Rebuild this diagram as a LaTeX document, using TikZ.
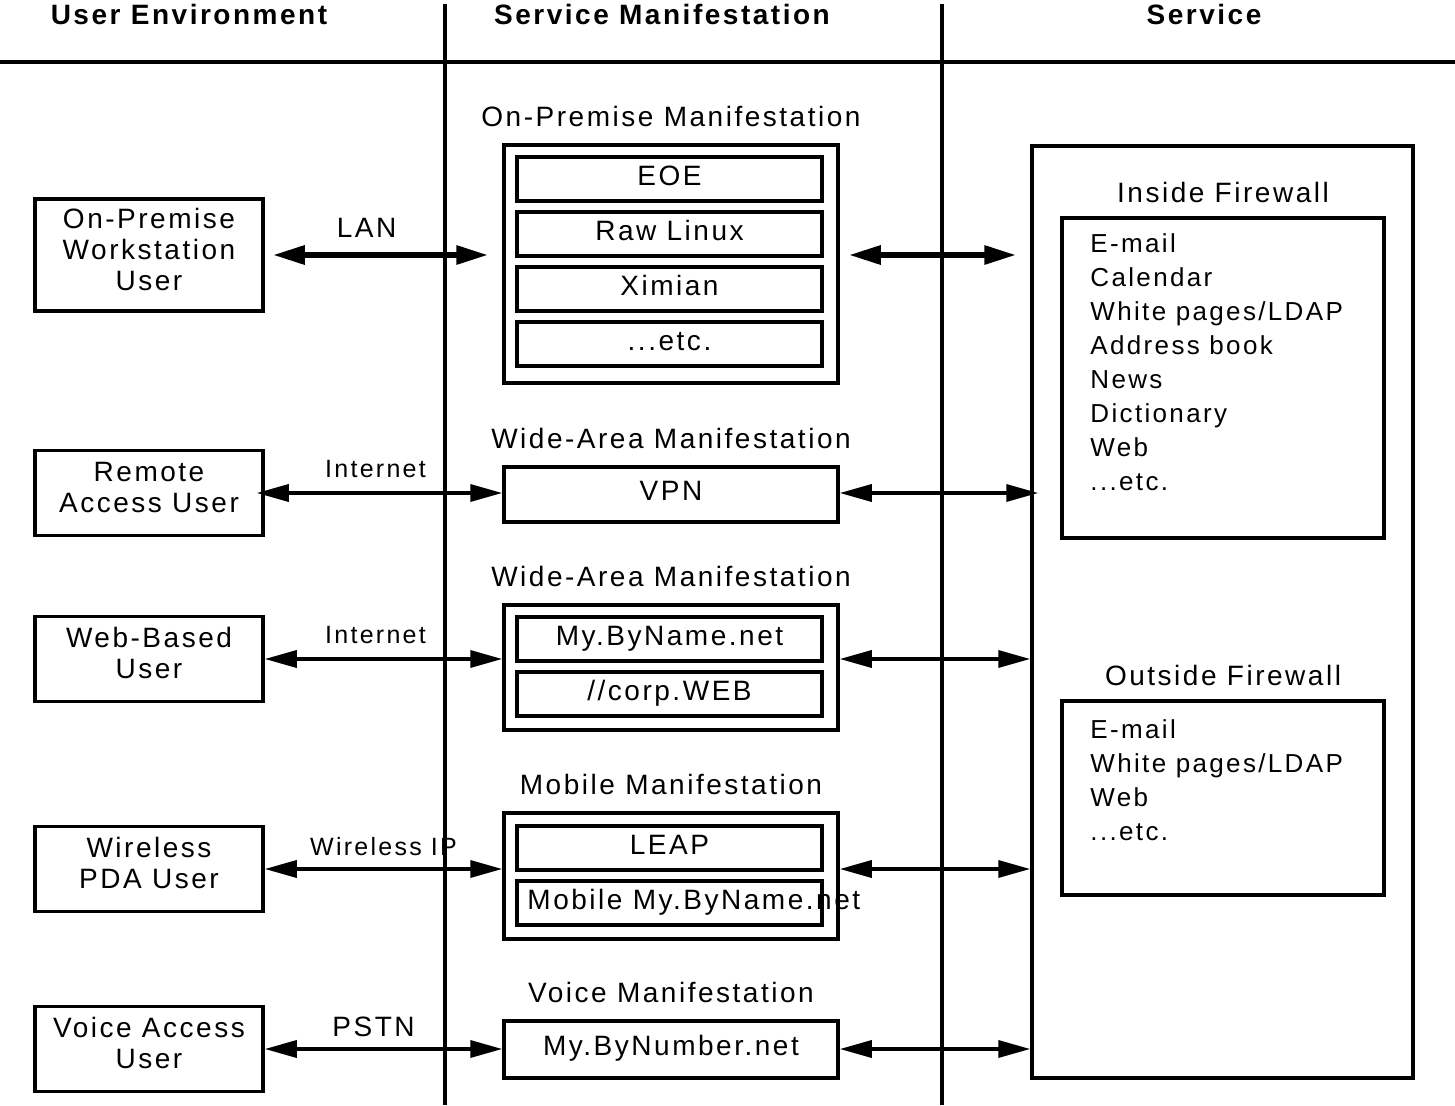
\documentclass[tikz,border=0pt]{standalone}
\usepackage{fontspec}
\setmainfont{Liberation Sans}[LetterSpace=9]
\usetikzlibrary{positioning, arrows.meta}
\tikzset{
  heading/.style={anchor=base, inner sep=0pt, font=\fontsize{28}{31}\selectfont\bfseries},
  divider/.style={line width=3.5pt},
  userbox/.style={rectangle, draw=black, line width=3.5pt, minimum width=228pt, align=center, inner sep=0pt,
    execute at end node={\rule[-12pt]{0pt}{12pt}}},
  manibox/.style={rectangle, draw=black, line width=3.5pt, minimum width=334pt, text height=20pt, text depth=8pt},
  layerbox/.style={rectangle, draw=black, line width=3.5pt, minimum width=305pt, minimum height=44pt, text height=20pt, text depth=8pt, inner sep=0pt},
  layertext/.style={inner sep=0pt, text height=20pt, text depth=8pt},
  panel/.style={rectangle, draw=black, line width=3.5pt, minimum width=322pt},
  caption/.style={inner sep=0pt},
  itemlist/.style={align=left, inner sep=0pt, font=\fontsize{26}{34}\selectfont},
  linklabel/.style={above=15pt, inner sep=0pt},
  smalllabel/.style={above=14pt, inner sep=0pt, font=\fontsize{25}{30}\selectfont},
  bigarrow/.style={line width=6pt, {Triangle[length=32pt,width=18pt]}-{Triangle[length=32pt,width=18pt]}},
  arrow/.style={line width=3.5pt, {Triangle[length=32pt,width=17pt]}-{Triangle[length=32pt,width=17pt]}}
}
\begin{document}
\begin{tikzpicture}[x=1pt, y=-1pt, node distance=55pt, font=\fontsize{28}{31}\selectfont]

        \useasboundingbox (0,0) rectangle (1455,1105);

        % Cabeceras y separadores
        \node (headUser) [heading] at (189,25) {User Environment};
        \node (headMani) [heading] at (662,25) {Service Manifestation};
        \node (headService) [heading] at (1204,25) {Service};
        \draw [divider, line width=4pt] (0,62) -- (1455,62);
        \draw [divider] (445,4) -- (445,1105);
        \draw [divider] (942,4) -- (942,1105);

        % Usuarios
        \node (opUser) [userbox, minimum height=112pt] at (149,255) {On-Premise\\Workstation\\User};
        \node (remoteUser) [userbox, minimum height=85pt] at (149,493) {Remote\\Access User};
        \node (webUser) [userbox, minimum height=85pt] at (149,659) {Web-Based\\User};
        \node (pdaUser) [userbox, minimum height=85pt] at (149,869) {Wireless\\PDA User};
        \node (voiceUser) [userbox, minimum height=85pt] at (149,1049) {Voice Access\\User};

        % Manifestaciones
        \node (onPrem) [manibox, minimum height=238pt] at (671,264) {};
        \node (eoe) [layerbox] at (669.5,179) {EOE};
        \node (rawLinux) [layerbox, below of=eoe] {Raw Linux};
        \node (ximian) [layerbox, below of=rawLinux] {Ximian};
        \node (onPremEtc) [layerbox, below of=ximian] {...etc.};
        \node (onPremTitle) [caption, above=16pt of onPrem] {On-Premise Manifestation};

        \node (vpn) [manibox, minimum height=55pt] at (671,494.5) {VPN};
        \node (vpnTitle) [caption, above=16pt of vpn] {Wide-Area Manifestation};

        \node (webMani) [manibox, minimum height=125pt] at (671,667.5) {};
        \node (byName) [layerbox] at (669.5,639) {My.ByName.net};
        \node (corpWeb) [layerbox, below of=byName] {//corp.WEB};
        \node (webTitle) [caption, above=16pt of webMani] {Wide-Area Manifestation};

        \node (mobileMani) [manibox, minimum height=126pt] at (671,876) {};
        \node (leap) [layerbox] at (669.5,848) {LEAP};
        \node (mobileName) [layerbox, below of=leap] {};
        \node (mobileText) [layertext, right=12pt of mobileName.west] {Mobile My.ByName.net};
        \node (mobileTitle) [caption, above=16pt of mobileMani] {Mobile Manifestation};

        \node (voiceMani) [manibox, minimum height=57pt] at (671,1049.5) {My.ByNumber.net};
        \node (voiceTitle) [caption, above=16pt of voiceMani] {Voice Manifestation};

        % Servicio
        \node (service) [panel, minimum width=381pt, minimum height=932pt] at (1222.5,612) {};
        \node (inside) [panel, minimum height=320pt] at (1223,378) {};
        \node (insideTitle) [caption, above=13pt of inside] {Inside Firewall};
        \node (insideList) [itemlist, below right=17pt and 30pt of inside.north west] {E-mail\\Calendar\\White pages/LDAP\\Address book\\News\\Dictionary\\Web\\...etc.};
        \node (outside) [panel, minimum height=194pt] at (1223,798) {};
        \node (outsideTitle) [caption, above=13pt of outside] {Outside Firewall};
        \node (outsideList) [itemlist, below right=20pt and 30pt of outside.north west] {E-mail\\White pages/LDAP\\Web\\...etc.};

        % Flechas
        \draw [bigarrow, shorten <=8pt, shorten >=14pt] (opUser.east) -- node[linklabel, xshift=-17pt]{LAN} (opUser.east -| onPrem.west);
        \draw [bigarrow, shorten <=9pt, shorten >=14pt] (opUser.east -| onPrem.east) -- (opUser.east -| service.west);
        \draw [arrow, shorten <=-8pt] (remoteUser.east) -- node[smalllabel, xshift=-8pt]{Internet} (remoteUser.east -| vpn.west);
        \draw [arrow, shorten >=-8pt] (remoteUser.east -| vpn.east) -- (remoteUser.east -| service.west);
        \draw [arrow] (webUser.east) -- node[smalllabel, xshift=-8pt]{Internet} (webUser.east -| webMani.west);
        \draw [arrow] (webUser.east -| webMani.east) -- (webUser.east -| service.west);
        \draw [arrow] (pdaUser.east) -- node[smalllabel, above=12pt]{Wireless IP} (pdaUser.east -| mobileMani.west);
        \draw [arrow] (pdaUser.east -| mobileMani.east) -- (pdaUser.east -| service.west);
        \draw [arrow] (voiceUser.east) -- node[linklabel, above=10pt, xshift=-10pt]{PSTN} (voiceUser.east -| voiceMani.west);
        \draw [arrow] (voiceUser.east -| voiceMani.east) -- (voiceUser.east -| service.west);
\end{tikzpicture}
\end{document}
